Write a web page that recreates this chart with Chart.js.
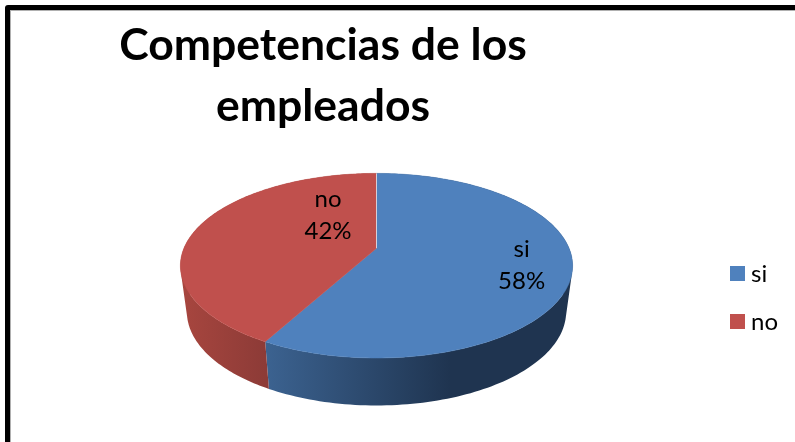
<!DOCTYPE html>
<html>
<head>
<meta charset="utf-8">
<title>Competencias de los empleados</title>
<script src="https://cdn.jsdelivr.net/npm/chart.js@4"></script>
<style>
  html, body { margin: 0; padding: 0; background: #fff; overflow: hidden; }
  #frame {
    position: absolute; left: 5px; top: 5px; width: 820px; height: 460px;
    border: 5px solid #000; border-top-left-radius: 3px;
    box-shadow: inset 1px 1px 0 #b0b0b0;
  }
  #wrap { position: absolute; left: 0; top: 0; width: 795px; height: 442px; }
</style>
</head>
<body>
<div id="frame"></div>
<div id="wrap"><canvas id="chart" width="795" height="442"></canvas></div>
<script>
const titleLines = ['Competencias de los', 'empleados'];
const categories = ['si', 'no'];
const values = [58, 42];
const percentLabels = ['58%', '42%'];
const topColors = ['#4f81bd', '#c0504d'];

// the pie is squashed and tilted like the old 3D office charts
const stretch = 196.5 / 92.5;
const tilt = -0.19;
const depth = 46;
const steps = 160;
const wallColors = [
  [[264, '#3c6391'], [450, '#1f3450'], [573, '#1f3450']],
  [[180, '#a8463f'], [265, '#8d3b37']]
];
const labelSpots = [[0.74, 0], [-0.247, -0.546]];
const titleCenter = 323;
const legendX = 730;
const legendY = [274, 322];

function project(a, r, arc, lower) {
  const u = Math.cos(a) * r, v = Math.sin(a) * r;
  const d = 1 + tilt * v;
  const x = u * Math.sqrt(1 - tilt * tilt) / d;
  const y = (v + tilt) / d;
  const rx = arc.outerRadius * stretch * (lower ? 0.967 : 1);
  const ry = arc.outerRadius * (lower ? 1.016 : 1);
  return [arc.x + rx * x, arc.y + (lower ? depth : 0) + ry * y];
}

function angleAt(arc, k) {
  return arc.startAngle + (arc.endAngle - arc.startAngle) * k / steps;
}

function signedArea(q) {
  let s = 0;
  q.forEach((p, i) => {
    const n = q[(i + 1) % q.length];
    s += p[0] * n[1] - n[0] * p[1];
  });
  return s;
}

const pie3d = {
  id: 'pie3d',
  afterLayout(chart) {
    const t = chart.titleBlock;
    const half = (t.right - t.left) / 2;
    t.left = titleCenter - half;
    t.right = titleCenter + half;
  },
  beforeDatasetDraw(chart, args) {
    const ctx = chart.ctx;
    const arcs = args.meta.data;
    ctx.save();
    // side walls first, small quads in one path so there are no seams
    arcs.forEach((arc, i) => {
      const x0 = wallColors[i][0][0], x1 = wallColors[i][wallColors[i].length - 1][0];
      const g = ctx.createLinearGradient(x0, 0, x1, 0);
      wallColors[i].forEach(s => g.addColorStop((s[0] - x0) / (x1 - x0), s[1]));
      ctx.fillStyle = g;
      ctx.beginPath();
      for (let k = 0; k < steps; k++) {
        const q = [
          project(angleAt(arc, k), 1, arc, false),
          project(angleAt(arc, k + 1), 1, arc, false),
          project(angleAt(arc, k + 1), 1, arc, true),
          project(angleAt(arc, k), 1, arc, true)
        ];
        if (signedArea(q) < 0) q.reverse();
        ctx.moveTo(q[0][0], q[0][1]);
        ctx.lineTo(q[1][0], q[1][1]);
        ctx.lineTo(q[2][0], q[2][1]);
        ctx.lineTo(q[3][0], q[3][1]);
        ctx.closePath();
      }
      ctx.fill();
    });
    // top faces cover whatever is behind
    arcs.forEach(arc => {
      ctx.fillStyle = arc.options.backgroundColor;
      ctx.strokeStyle = arc.options.backgroundColor;
      ctx.lineWidth = 0.5;
      ctx.beginPath();
      const c = project(0, 0, arc, false);
      ctx.moveTo(c[0], c[1]);
      for (let k = 0; k <= steps; k++) {
        const p = project(angleAt(arc, k), 1, arc, false);
        ctx.lineTo(p[0], p[1]);
      }
      ctx.closePath();
      ctx.fill();
      ctx.stroke();
    });
    // pale seam between the slices at the top
    const first = arcs[0];
    const c = project(0, 0, first, false), e = project(first.startAngle, 1, first, false);
    ctx.strokeStyle = 'rgba(225,235,245,0.8)';
    ctx.lineWidth = 1;
    ctx.beginPath();
    ctx.moveTo(c[0], c[1]);
    ctx.lineTo(e[0], e[1]);
    ctx.stroke();
    // slice labels
    ctx.fillStyle = '#000';
    ctx.font = '24px Lato';
    ctx.textAlign = 'center';
    ctx.textBaseline = 'middle';
    arcs.forEach((arc, i) => {
      const x = arc.x + labelSpots[i][0] * arc.outerRadius * stretch;
      const y = arc.y + labelSpots[i][1] * arc.outerRadius;
      ctx.fillText(categories[i], x, y - 16);
      ctx.fillText(percentLabels[i], x, y + 16);
    });
    // legend, the built in one keeps too wide a gap after the box
    ctx.textAlign = 'left';
    categories.forEach((name, i) => {
      ctx.fillStyle = topColors[i];
      ctx.fillRect(legendX, legendY[i] - 8, 15, 15);
      ctx.fillStyle = '#000';
      ctx.fillText(name, legendX + 21, legendY[i]);
    });
    ctx.restore();
    return false;
  }
};

new Chart(document.getElementById('chart').getContext('2d'), {
  type: 'pie',
  data: {
    labels: categories,
    datasets: [{ data: values, backgroundColor: topColors, borderWidth: 0 }]
  },
  options: {
    responsive: false,
    animation: false,
    layout: { padding: { left: 0, top: 0, right: 42, bottom: 84 } },
    plugins: {
      title: {
        display: true,
        text: titleLines,
        color: '#000',
        font: { family: 'Lato', size: 44.5, weight: 'bold', lineHeight: 1.375 },
        padding: { top: 15, bottom: 36 }
      },
      legend: { display: false },
      tooltip: { enabled: false }
    }
  },
  plugins: [pie3d]
});
</script>
</body>
</html>
